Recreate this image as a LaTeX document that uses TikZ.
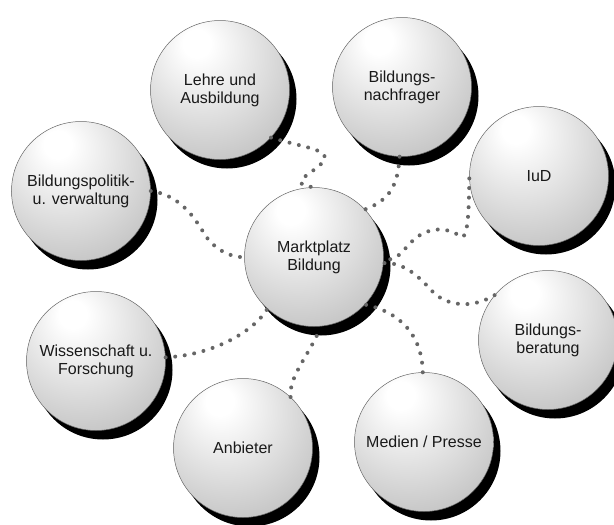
\documentclass[tikz,border=0pt]{standalone}
\usepackage{fontspec}
\setmainfont{Liberation Sans}
\usepackage{tikz}
\usetikzlibrary{shadows}
\pgfdeclareradialshading{kugelschatten}{\pgfpoint{-9bp}{18bp}}{color(0bp)=(white); color(5bp)=(white); color(35bp)=(black!22); color(72bp)=(black!52)}
\tikzset{
	kugel/.style={circle, minimum size=139pt, inner sep=0pt, draw=black!60, line width=0.5pt, shading=kugelschatten, align=center, text=black!90, font=\fontsize{16}{18}\selectfont, drop shadow={shadow xshift=7pt, shadow yshift=-9pt, fill=black, opacity=1}},
	punkte/.style={draw=black!60, line width=4pt, line cap=round, dash pattern=on 0pt off 9.6pt}
}

\begin{document}
\begin{tikzpicture}[x=1pt, y=-1pt]
		%%%%% START %%%%%
		\useasboundingbox (0, 0) rectangle (614, 525);
		
		\node[kugel] (lehre) at (220, 90) {Lehre und\\Ausbildung};
		\node[kugel] (nachfr) at (402, 87) {Bildungs-\\nachfrager};
		\node[kugel] (politik) at (81, 191) {Bildungspolitik-\\u. verwaltung};
		\node[kugel] (iud) at (539, 176) {IuD};
		\node[kugel] (markt) at (314, 257) {Marktplatz\\Bildung};
		\node[kugel] (beratung) at (548, 340) {Bildungs-\\beratung};
		\node[kugel] (wiss) at (96, 361) {Wissenschaft u.\\Forschung};
		\node[kugel] (anbieter) at (243, 448) {Anbieter};
		\node[kugel] (medien) at (424, 442) {Medien / Presse};
		
		\draw[punkte] (lehre.-43) .. controls (305, 148) and (335, 150) .. (322, 163) .. controls (312, 174) and (285, 184) .. (markt.north);
		\draw[punkte] (nachfr.-92) .. controls (398, 185) and (390, 200) .. (markt.43);
		\draw[punkte] (iud.182) .. controls (469, 210) and (468, 240) .. (461, 237) .. controls (455, 232) and (445, 228) .. (433, 230) .. controls (405, 236) and (405, 262) .. (markt.-2);
		\draw[punkte] (beratung.140) .. controls (470, 310) and (445, 305) .. (432, 291) .. controls (420, 278) and (405, 262) .. (markt.-5);
		\draw[punkte] (medien.91) .. controls (422, 335) and (400, 312) .. (markt.-43);
		\draw[punkte, shorten >=10pt] (anbieter.47) .. controls (289, 378) and (305, 360) .. (markt.-84);
		\draw[punkte] (wiss.3) .. controls (215, 355) and (255, 330) .. (markt.228);
		\draw[punkte] (politik.east) .. controls (180, 195) and (195, 218) .. (205, 235) .. controls (215, 250) and (232, 258) .. (markt.west);
		%%%%% END %%%%%
	\end{tikzpicture}
\end{document}
